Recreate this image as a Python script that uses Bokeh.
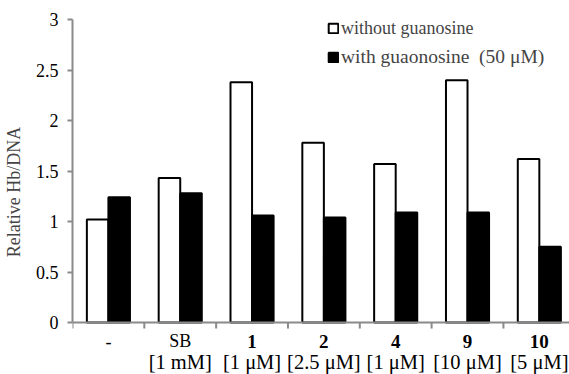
import numpy as np
from bokeh.plotting import figure
from bokeh.models import Range1d, FixedTicker, Legend, LegendItem, ColumnDataSource, Span
from bokeh.core.properties import value
from bokeh.embed import file_html
from bokeh.resources import INLINE

names = ["-", "SB", "1", "2", "4", "9", "10"]
bold_names = [False, False, True, True, True, True, True]
doses = ["", "[1 mM]", "[1 \u03bcM]", "[2.5 \u03bcM]", "[1 \u03bcM]", "[10 \u03bcM]", "[5 \u03bcM]"]
without_guanosine = [1.02, 1.43, 2.38, 1.78, 1.57, 2.40, 1.62]
with_guanosine = [1.24, 1.28, 1.06, 1.04, 1.09, 1.09, 0.75]
y_ticks = [0, 0.5, 1, 1.5, 2, 2.5, 3]

FONT = "Liberation Serif"
GRAY = "#8a8a8a"

p = figure(width=569, height=374, output_backend="svg", toolbar_location=None,
           x_range=Range1d(0, 6.92), y_range=Range1d(-0.515, 3.1),
           x_axis_location=None,
           min_border_left=72, min_border_right=0, min_border_top=9, min_border_bottom=0)
p.outline_line_color = None
p.xgrid.visible = False
p.ygrid.visible = False
p.background_fill_color = "white"

n = len(names)
centers = np.arange(n) + 0.5
src = ColumnDataSource(dict(xw=centers - 0.15, xb=centers + 0.15,
                            w=without_guanosine, b=with_guanosine))
r1 = p.vbar(x="xw", top="w", width=0.3, source=src, fill_color="white",
            line_color="black", line_width=2)
r2 = p.vbar(x="xb", top="b", width=0.3, source=src, fill_color="black",
            line_color="black", line_width=2)

# x axis line at y=0 and category boundary ticks
p.add_layout(Span(location=0, dimension="width", line_color=GRAY, line_width=2))
bounds = np.arange(n + 1)
p.segment(x0=bounds, y0=np.zeros(n + 1), x1=bounds, y1=np.full(n + 1, -0.06),
          line_color=GRAY, line_width=2)

ay = p.yaxis[0]
ay.bounds = (0, 3)
ay.ticker = FixedTicker(ticks=y_ticks)
ay.major_label_overrides = {t: ("%g" % t) for t in y_ticks}
ay.major_label_text_font = FONT
ay.major_label_text_font_size = "18px"
ay.major_label_text_color = "black"
ay.major_label_standoff = 9
ay.axis_line_color = GRAY
ay.axis_line_width = 2
ay.major_tick_line_color = GRAY
ay.major_tick_line_width = 2
ay.major_tick_out = 5
ay.major_tick_in = 0
ay.minor_tick_line_color = None
ay.axis_label = "Relative Hb/DNA"
ay.axis_label_text_font = FONT
ay.axis_label_text_font_style = "normal"
ay.axis_label_text_font_size = "18px"
ay.axis_label_standoff = 9

# category labels (two lines)
bx = [c for c, b in zip(centers, bold_names) if b]
bt = [t for t, b in zip(names, bold_names) if b]
nx = [c for c, b in zip(centers, bold_names) if not b]
nt = [t for t, b in zip(names, bold_names) if not b]
p.text(x=bx, y=[-0.188] * len(bx), text=bt, text_font=value(FONT), text_font_size="19px",
       text_font_style="bold", text_align="center", text_baseline="middle", text_color="black")
p.text(x=nx, y=[-0.188] * len(nx), text=nt, text_font=value(FONT), text_font_size="18px",
       text_align="center", text_baseline="middle", text_color="black")
p.text(x=list(centers), y=[-0.396] * n, text=doses, text_font=value(FONT), text_font_size="20.5px",
       text_align="center", text_baseline="middle", text_color="black")

def make_legend(label, r, size, loc):
    lg = Legend(items=[LegendItem(label=label, renderers=[r])], location=loc)
    lg.glyph_width = 12
    lg.glyph_height = 12
    lg.label_text_font = FONT
    lg.label_text_font_size = size
    lg.label_height = 22
    lg.padding = 0
    lg.margin = 0
    lg.label_standoff = 2
    lg.border_line_alpha = 0
    lg.background_fill_alpha = 0
    return lg

p.add_layout(make_legend("without guanosine", r1, "18px", (255, 335)))
p.add_layout(make_legend("with guaonosine \u00a0(50 \u03bcM)", r2, "19.5px", (255, 306)))

open("out.html", "w").write(file_html(p, INLINE))
